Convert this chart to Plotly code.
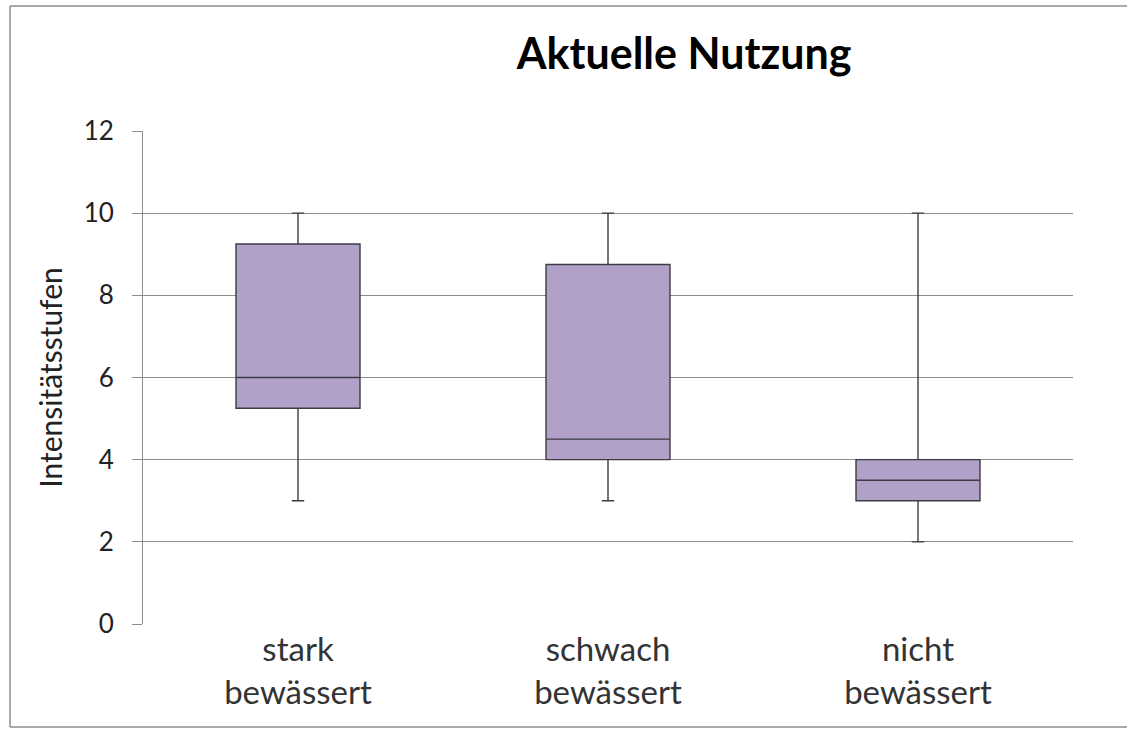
import plotly.graph_objects as go

categories = ["stark<br>bewässert", "schwach<br>bewässert", "nicht<br>bewässert"]
minimum = [3, 3, 2]
q1 = [5.25, 4, 3]
median = [6, 4.5, 3.5]
q3 = [9.25, 8.75, 4]
maximum = [10, 10, 10]
y_ticks = [0, 2, 4, 6, 8, 10, 12]

FONT = "Lato, Calibri, Carlito, sans-serif"

fig = go.Figure()
fig.add_trace(go.Box(
    x=categories,
    q1=q1, median=median, q3=q3,
    lowerfence=minimum, upperfence=maximum,
    fillcolor="#B1A0C7",
    line=dict(color="#3c3c44", width=1.4),
    whiskerwidth=0.1,
    width=0.4,
    boxpoints=False,
    showlegend=False,
    hoverinfo="skip",
))

l, r, t, b = 143, 55, 131, 105
W, H = 1128, 729
pw, ph = W - l - r, H - t - b

def px_x(p):
    return (p - l) / pw

def px_y(p):
    return (t + ph - p) / ph

border = dict(color="#8c8c8c", width=1.5)
shapes = [
    dict(type="line", xref="paper", yref="paper", x0=px_x(10), x1=px_x(10),
         y0=px_y(727), y1=px_y(6), line=border, layer="below"),
    dict(type="line", xref="paper", yref="paper", x0=px_x(10), x1=px_x(W - 1),
         y0=px_y(6), y1=px_y(6), line=border, layer="below"),
    dict(type="line", xref="paper", yref="paper", x0=px_x(10), x1=px_x(W - 1),
         y0=px_y(727), y1=px_y(727), line=border, layer="below"),
]

fig.update_layout(
    width=W, height=H,
    margin=dict(l=l, r=r, t=t, b=b, pad=0),
    paper_bgcolor="white",
    plot_bgcolor="white",
    title=dict(
        text="<b>Aktuelle Nutzung</b>",
        x=684 / W, xanchor="center",
        y=1 - 54 / H, yanchor="middle",
        font=dict(family=FONT, size=43, color="#000000"),
    ),
    font=dict(family=FONT, color="#222222"),
    xaxis=dict(
        range=[-0.5, 2.5],
        showgrid=False,
        showline=False,
        ticks="",
        ticklabelstandoff=3,
        tickfont=dict(size=33, color="#333333"),
        zeroline=False,
    ),
    yaxis=dict(
        range=[0, 12],
        tickvals=y_ticks,
        showgrid=True,
        gridcolor="#8c8c8c",
        gridwidth=1,
        showline=True,
        linecolor="#8c8c8c",
        linewidth=1,
        ticks="outside",
        ticklen=10,
        tickcolor="#8c8c8c",
        ticklabelstandoff=13,
        tickfont=dict(size=26, color="#222222"),
        zeroline=False,
        title=dict(text="Intensitätsstufen", font=dict(size=30, color="#222222"), standoff=12),
    ),
    shapes=shapes,
)

fig.write_html(
    "out.html",
    config={"displayModeBar": False},
    post_script=(
        "document.body.style.margin='0';document.body.style.padding='0';"
        "document.body.style.overflow='hidden';"
        "document.documentElement.style.overflow='hidden';"
    ),
)
